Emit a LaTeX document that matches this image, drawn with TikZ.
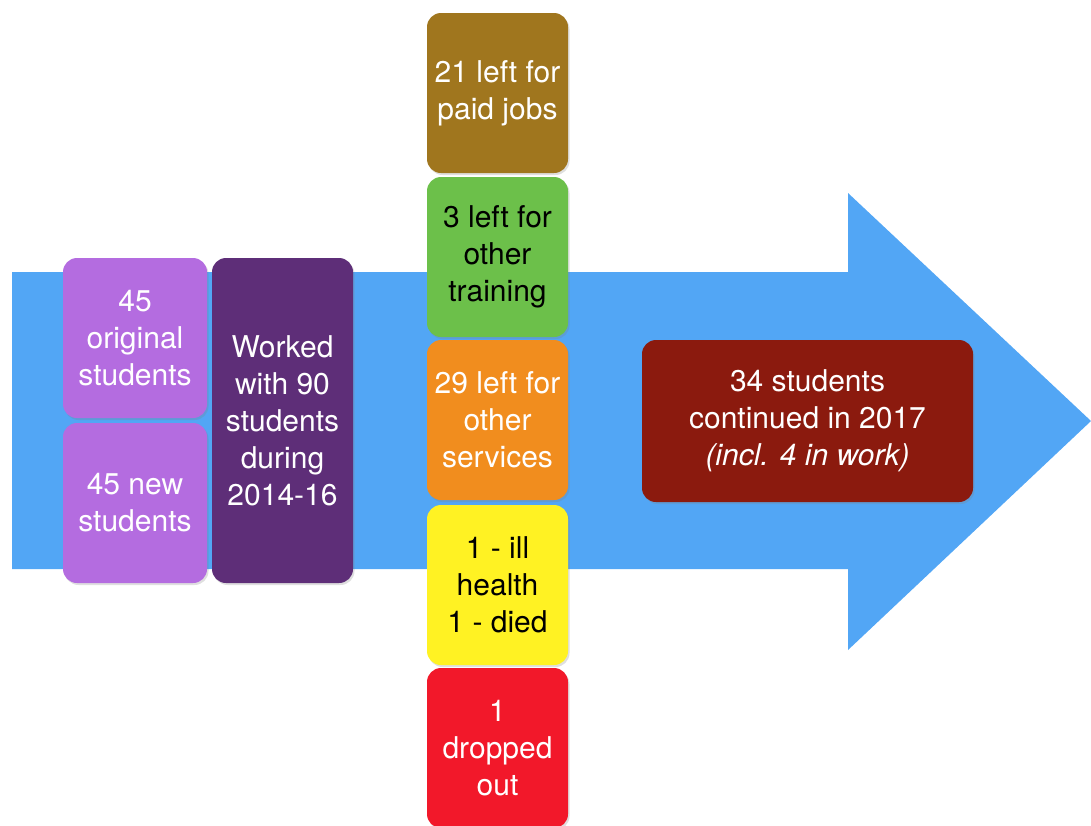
\documentclass[tikz,border=0pt]{standalone}
\usepackage{fontspec}
\setmainfont{TeX Gyre Heros}
\usepackage{tikz}
\usetikzlibrary{shadows}
\definecolor{flowblue}{RGB}{82,166,245}
\definecolor{lilac}{RGB}{180,108,224}
\definecolor{plum}{RGB}{94,46,120}
\definecolor{ochre}{RGB}{160,118,30}
\definecolor{leafgreen}{RGB}{108,192,74}
\definecolor{tangerine}{RGB}{241,141,30}
\definecolor{lemon}{RGB}{255,242,35}
\definecolor{signalred}{RGB}{242,24,42}
\definecolor{maroon}{RGB}{139,26,14}

\begin{document}
\begin{tikzpicture}[x=1pt, y=-1pt,
    stage/.style={rectangle, rounded corners=14pt, inner sep=0pt, align=center,
        minimum width=141pt, minimum height=160pt, text=white,
        font=\fontsize{30}{37}\selectfont,
        drop shadow={opacity=0.25, shadow xshift=1.5pt, shadow yshift=-2pt}},
    darktext/.style={text=black}]
    \clip (0,0) rectangle (1091,825);

    % Big arrow
    \fill[flowblue] (12,272) -- (848,272) -- (848,193) -- (1091,421)
        -- (848,650) -- (848,569) -- (12,569) -- cycle;

    % Intake
    \node[stage, fill=lilac, minimum width=144pt] (orig) at (135,338) {45\\original\\students};
    \node[stage, fill=lilac, minimum width=144pt] (new) at (135,503) {45 new\\students};
    \node[stage, fill=plum, minimum height=325pt] (worked) at (282.5,420.5) {Worked\\with 90\\students\\during\\2014-16};

    % Leavers
    \node[stage, fill=ochre] (paid) at (497.5,93) {21 left for\\paid jobs};
    \node[stage, fill=leafgreen, darktext] (training) at (497.5,257) {3 left for\\other\\training};
    \node[stage, fill=tangerine] (services) at (497.5,420) {29 left for\\other\\services};
    \node[stage, fill=lemon, darktext] (health) at (497.5,585) {1 - ill\\health\\1 - died};
    \node[stage, fill=signalred] (dropped) at (497.5,748) {1\\dropped\\out};

    % Result
    \node[stage, fill=maroon, minimum width=331pt, minimum height=162pt] (continued) at (807.5,421)
        {34 students\\continued in 2017\\\textit{(incl. 4 in work)}};
\end{tikzpicture}
\end{document}
